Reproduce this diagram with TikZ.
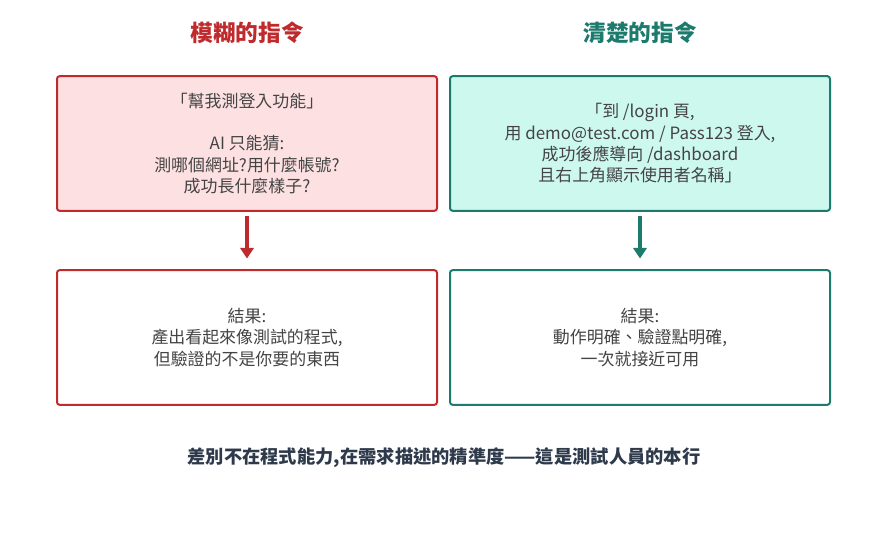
\documentclass[tikz,border=0pt]{standalone}
\usepackage{fontspec}
\setmainfont{Noto Sans CJK TC}
\usetikzlibrary{positioning,arrows.meta}
\definecolor{vagueRed}{HTML}{BF2A2D}
\definecolor{vagueFill}{HTML}{FDE1E2}
\definecolor{clearTeal}{HTML}{1C7B6C}
\definecolor{clearFill}{HTML}{CDF8EE}
\definecolor{bodyGray}{HTML}{444444}
\definecolor{footNavy}{HTML}{2E3A4B}
\begin{document}
\begin{tikzpicture}[x=0.75pt,y=-0.75pt,
    box/.style={draw, line width=1.5pt, rounded corners=2pt, minimum width=285pt,
      minimum height=101pt, align=center, text=bodyGray,
      font=\fontsize{12.7}{16}\selectfont},
    vague/.style={box, draw=vagueRed, fill=vagueFill},
    clear/.style={box, draw=clearTeal, fill=clearFill},
    result/.style={box, fill=white},
    title/.style={font=\fontsize{17}{20}\selectfont\bfseries},
    flow/.style={-{Triangle[width=10pt,length=8pt]}, line width=2.4pt}
  ]
  \useasboundingbox (0,0) rectangle (889,545);
  % titles
  \node[title, text=vagueRed] (tv) at (247,33) {模糊的指令};
  \node[title, text=clearTeal] (tc) at (640,33) {清楚的指令};
  % prompts
  \node[vague] (pv) at (247,143.5) {「幫我測登入功能」\\[16pt]AI 只能猜:\\測哪個網址?用什麼帳號?\\成功長什麼樣子?};
  \node[clear] (pc) at (640,143.5) {「到 /login 頁,\\用 demo@test.com / Pass123 登入,\\成功後應導向 /dashboard\\且右上角顯示使用者名稱」};
  % results
  \node[result, draw=vagueRed] (rv) at (247,337.5) {結果:\\產出看起來像測試的程式,\\但驗證的不是你要的東西};
  \node[result, draw=clearTeal] (rc) at (640,337.5) {結果:\\動作明確、驗證點明確,\\一次就接近可用};
  \draw[flow, vagueRed] ([yshift=-3pt]pv.south) -- ([yshift=8pt]rv.north);
  \draw[flow, clearTeal] ([yshift=-3pt]pc.south) -- ([yshift=8pt]rc.north);
  % footer
  \node[font=\fontsize{13.7}{16}\selectfont\bfseries, text=footNavy] (note) at (444,458)
    {差別不在程式能力,在需求描述的精準度——這是測試人員的本行};
\end{tikzpicture}
\end{document}
